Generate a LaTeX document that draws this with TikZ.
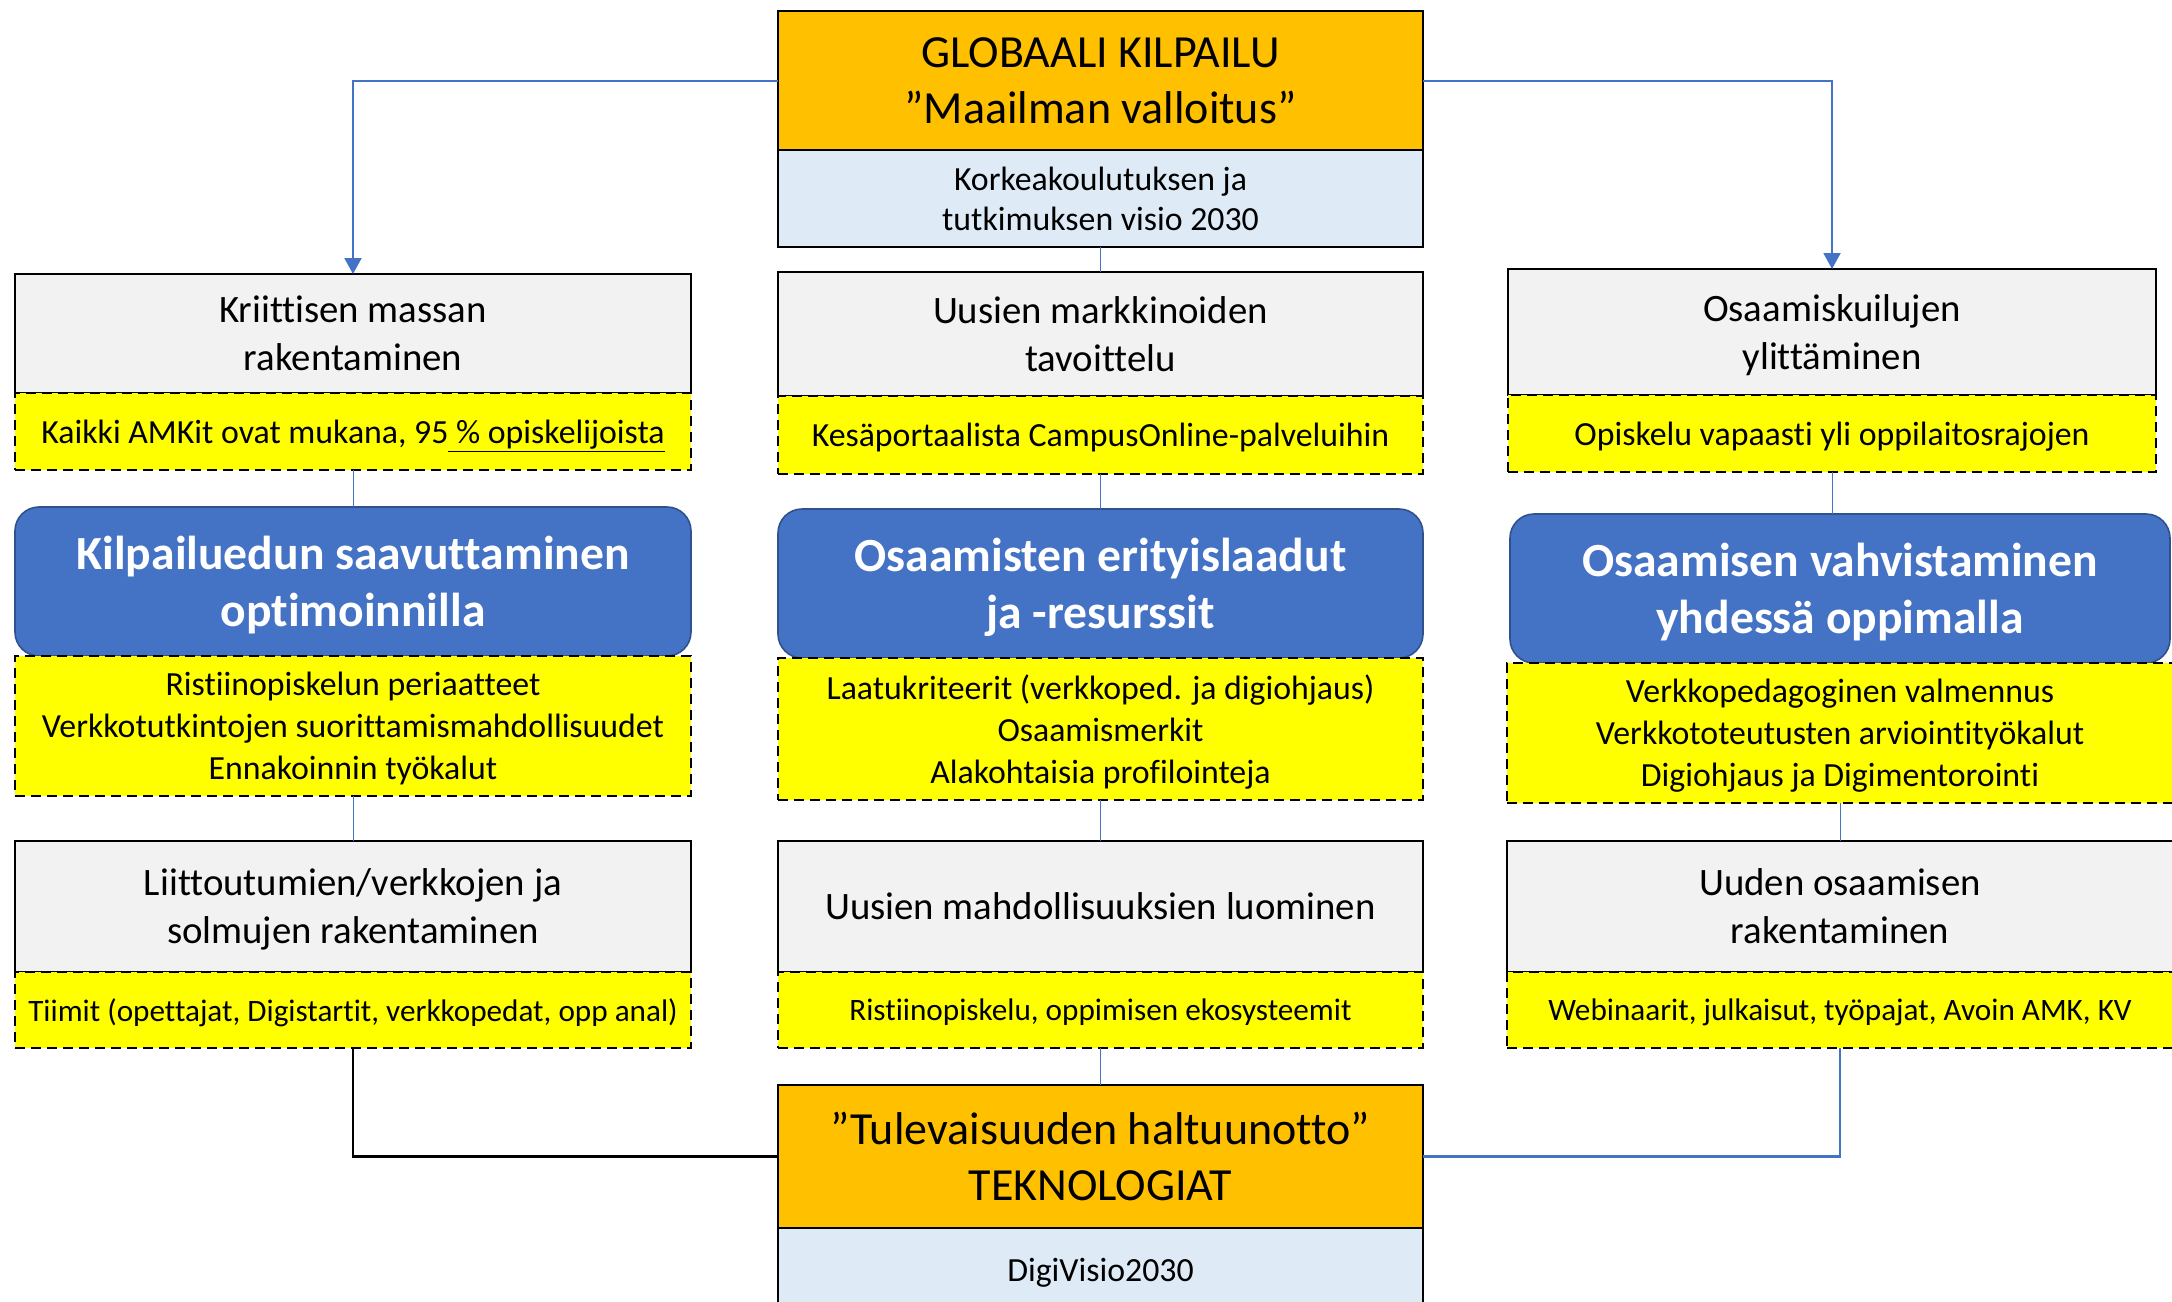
\documentclass[tikz,border=0pt]{standalone}
\usepackage{fontspec}
\setmainfont{Carlito}[Ligatures=NoCommon]
\usepackage{tikz}
\usetikzlibrary{arrows.meta,positioning}
\definecolor{orangebox}{RGB}{255,192,0}
\definecolor{lightbox}{RGB}{222,235,247}
\definecolor{graybox}{RGB}{242,242,242}
\definecolor{yellowbox}{RGB}{255,255,0}
\definecolor{bluebox}{RGB}{68,114,196}
\definecolor{blueedge}{RGB}{47,82,143}
\tikzstyle{basebox}=[rectangle,inner sep=0pt,outer sep=0pt,align=center,text depth=0pt]
\tikzstyle{headbox}=[basebox,draw=black,line width=1pt,fill=graybox,font=\fontsize{19.4}{24}\selectfont]
\tikzstyle{notebox}=[basebox,draw=black,line width=0.8pt,dash pattern=on 5pt off 3pt,fill=yellowbox,font=\fontsize{16.9}{21}\selectfont]
\tikzstyle{goalbox}=[basebox,draw=blueedge,line width=0.8pt,fill=bluebox,rounded corners=12pt,text=white,font=\bfseries\fontsize{23.8}{28.4}\selectfont]
\tikzstyle{mainbox}=[basebox,draw=black,line width=1.2pt,fill=orangebox,font=\fontsize{23}{28}\selectfont]
\tikzstyle{subbox}=[basebox,draw=black,line width=1.2pt,fill=lightbox,font=\fontsize{16.9}{20}\selectfont]
\tikzstyle{thinlink}=[draw=bluebox,line width=0.5pt]
\tikzstyle{mainarrow}=[-{Triangle[length=8pt,width=8.5pt]},line width=1pt,draw=bluebox]

\begin{document}
\begin{tikzpicture}[
        x=0.5pt,y=-0.5pt,
        left/.style={minimum width=338pt},
        mid/.style={minimum width=322.5pt},
        right/.style={minimum width=324pt},
        low/.style={font=\fontsize{15.6}{19}\selectfont}
        ]
        \useasboundingbox (0,0) rectangle (2172,1301);
        % middle column
        \node[mainbox,mid,anchor=north,minimum height=69.5pt](t1) at (1100.5,11) {GLOBAALI KILPAILU\\”Maailman valloitus”};
        \node[subbox,mid,below=0pt of t1,minimum height=48.5pt](t2) {Korkeakoulutuksen ja\\tutkimuksen visio 2030};
        \node[headbox,mid,below=12.5pt of t2,minimum height=62pt](h2) {Uusien markkinoiden\\tavoittelu};
        \node[notebox,mid,below=0pt of h2,minimum height=39pt](n2) {Kesäportaalista CampusOnline-palveluihin};
        \node[goalbox,mid,below=17.5pt of n2,minimum height=74.5pt](g2) {Osaamisten erityislaadut\\ja -resurssit};
        \node[notebox,mid,below=0pt of g2,minimum height=71pt](l2) {Laatukriteerit (verkkoped. ja digiohjaus)\\Osaamismerkit\\Alakohtaisia profilointeja};
        \node[headbox,mid,below=20.5pt of l2,minimum height=65.5pt](k2) {Uusien mahdollisuuksien luominen};
        \node[notebox,low,mid,below=0pt of k2,minimum height=38pt](m2) {Ristiinopiskelu, oppimisen ekosysteemit};
        \node[mainbox,mid,below=18.5pt of m2,minimum height=71.5pt](b1) {”Tulevaisuuden haltuunotto”\\TEKNOLOGIAT};
        \node[subbox,mid,below=0pt of b1,minimum height=42pt](b2) {DigiVisio2030};
        % left column
        \node[headbox,left,anchor=north,minimum height=59.5pt](h1) at (353,274) {Kriittisen massan\\rakentaminen};
        \node[notebox,left,below=0pt of h1,minimum height=38.5pt](n1) {Kaikki AMKit ovat mukana, 95\underline{ \% opiskelijoista}};
        \node[goalbox,left,below=18.5pt of n1,minimum height=74.5pt](g1) {Kilpailuedun saavuttaminen\\optimoinnilla};
        \node[notebox,left,below=0pt of g1,minimum height=70pt](l1) {Ristiinopiskelun periaatteet\\Verkkotutkintojen suorittamismahdollisuudet\\Ennakoinnin työkalut};
        \node[headbox,left,below=22.5pt of l1,minimum height=65.5pt](k1) {Liittoutumien/verkkojen ja\\solmujen rakentaminen};
        \node[notebox,low,left,below=0pt of k1,minimum height=38pt](m1) {Tiimit (opettajat, Digistartit, verkkopedat, opp anal)};
        % right column
        \node[headbox,right,anchor=north,minimum height=63pt](h3) at (1832,269) {Osaamiskuilujen\\ylittäminen};
        \node[notebox,right,below=0pt of h3,minimum height=38.5pt](n3) {Opiskelu vapaasti yli oppilaitosrajojen};
        \node[goalbox,minimum width=330pt,below=21pt of n3,xshift=4pt,minimum height=74.5pt](g3) {Osaamisen vahvistaminen\\yhdessä oppimalla};
        \node[notebox,minimum width=333pt,below=0pt of g3,minimum height=70pt](l3) {Verkkopedagoginen valmennus\\Verkkototeutusten arviointityökalut\\Digiohjaus ja Digimentorointi};
        \node[headbox,minimum width=333pt,below=19pt of l3,minimum height=65.5pt](k3) {Uuden osaamisen\\rakentaminen};
        \node[notebox,low,minimum width=333pt,below=0pt of k3,minimum height=38pt](m3) {Webinaarit, julkaisut, työpajat, Avoin AMK, KV};
        % connectors
        \draw[mainarrow] (t1.west) -| (h1.north);
        \draw[mainarrow] (t1.east) -| (h3.north);
        \draw[thinlink] (t2.south) -- (h2.north);
        \draw[thinlink] (n1.south) -- (g1.north);
        \draw[thinlink] (n2.south) -- (g2.north);
        \draw[thinlink] (n3.south) -- (n3.south |- g3.north);
        \draw[thinlink] (l1.south) -- (k1.north);
        \draw[thinlink] (l2.south) -- (k2.north);
        \draw[thinlink] (l3.south) -- (k3.north);
        \draw[thinlink] (m2.south) -- (b1.north);
        \draw[line width=1.3pt] (m1.south) |- (b1.west);
        \draw[line width=1.3pt,draw=bluebox] (m3.south) |- (b1.east);
    \end{tikzpicture}
\end{document}
